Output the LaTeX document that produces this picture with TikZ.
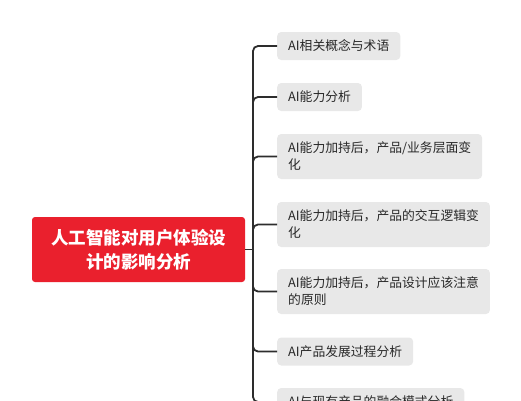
\documentclass[tikz,border=0pt]{standalone}
\usepackage{fontspec}
\setmainfont{Noto Sans CJK SC}
\begin{document}
\begin{tikzpicture}[x=1pt,y=-1pt,
  rootbox/.style={fill=rootred, rounded corners=3pt, text=white, font=\fontsize{17.5}{24}\selectfont\bfseries, align=center, minimum width=213pt, minimum height=65pt, inner sep=0pt},
  childbox/.style={fill=boxgray, rounded corners=4pt, text=textdark, font=\fontsize{12.8}{17}\selectfont, anchor=west, inner xsep=11pt, inner ysep=0pt, minimum height=28pt, align=left},
  twoline/.style={minimum height=45pt},
  link/.style={draw=linedark, line width=1.8pt, rounded corners=5pt}]
\definecolor{rootred}{RGB}{234,32,45}
\definecolor{boxgray}{RGB}{232,232,232}
\definecolor{textdark}{RGB}{40,40,40}
\definecolor{linedark}{RGB}{45,45,45}
\useasboundingbox (0,0) rectangle (521,400);
\clip (0,0) rectangle (521,400);
\node[rootbox] (root) at (138.5,249.5) {人工智能对用户体验设\\计的影响分析};
\coordinate (j) at (253,249.5);
\node[childbox] (c1) at (277,46) {AI相关概念与术语};
\node[childbox] (c2) at (277,97) {AI能力分析};
\node[childbox,twoline] (c3) at (277,156.5) {AI能力加持后，产品/业务层面变\\化};
\node[childbox,twoline] (c4) at (277,224.5) {AI能力加持后，产品的交互逻辑变\\化};
\node[childbox,twoline] (c5) at (277,291.5) {AI能力加持后，产品设计应该注意\\的原则};
\node[childbox] (c6) at (277,351.5) {AI产品发展过程分析};
\node[childbox] (c7) at (277,402) {AI与现有产品的融合模式分析};
\draw[link] (root.east) -- (j);
\foreach \c in {c1,c2,c3,c4,c5,c6,c7} {\draw[link] (j) |- (\c.west);}
\end{tikzpicture}
\end{document}
